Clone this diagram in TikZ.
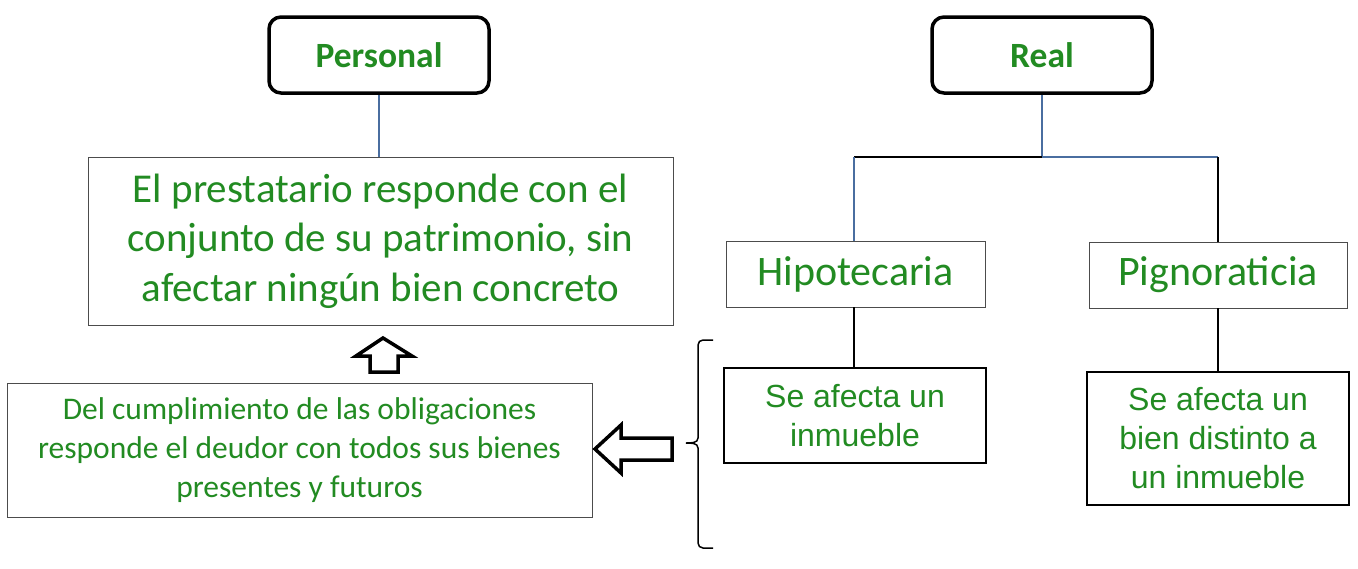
\documentclass[tikz,border=0pt]{standalone}
\usepackage{fontspec}
\setmainfont{Carlito}
\newfontfamily\arialf{Liberation Sans}
\definecolor{tgreen}{RGB}{34,139,34}
\definecolor{lblue}{RGB}{74,110,160}
\begin{document}
\begin{tikzpicture}[x=1pt,y=-1pt,
  topbox/.style={draw=black,line width=3.5pt,rounded corners=12pt,fill=white,minimum width=220pt,minimum height=76pt,font=\fontsize{35.5}{40}\selectfont\bfseries,text=tgreen},
  thinbox/.style={draw=black!70,line width=0.9pt,text=tgreen,align=center,inner sep=0pt},
  darkbox/.style={draw=black,line width=2pt,text=tgreen,align=center,inner sep=0pt},
  blk/.style={draw=black,line width=1.5pt},
  blu/.style={draw=lblue,line width=1.5pt},
  blockarrow/.style={draw=black,line width=3.5pt,fill=white,line join=miter}
]
\useasboundingbox (0,0) rectangle (1358,568);
% top boxes
\node[topbox] (pers) at (379,55) {Personal};
\node[topbox] (real) at (1042,55) {Real};
% big box
\node[thinbox,minimum width=585pt,minimum height=168pt,font=\fontsize{41}{49.5}\selectfont] (big) at (380.5,241) {El prestatario responde con el\\conjunto de su patrimonio, sin\\afectar ningún bien concreto};
% lower-left box
\node[thinbox,minimum width=585pt,minimum height=134pt,font=\fontsize{31.5}{39}\selectfont] (del) at (299.5,450) {Del cumplimiento de las obligaciones\\responde el deudor con todos sus bienes\\presentes y futuros};
% Hipotecaria, Pignoraticia
\node[thinbox,minimum width=259pt,minimum height=66pt,font=\fontsize{42}{44}\selectfont] (hip) at (855.5,274) {Hipotecaria};
\node[thinbox,minimum width=258pt,minimum height=66pt,font=\fontsize{42}{44}\selectfont] (pig) at (1218,275) {Pignoraticia};
% children
\node[darkbox,minimum width=262pt,minimum height=95pt,font=\arialf\fontsize{32}{39}\selectfont] (se1) at (855,415.5) {Se afecta un\\inmueble};
\node[darkbox,minimum width=262pt,minimum height=133pt,font=\arialf\fontsize{32}{39}\selectfont] (se2) at (1218,438.5) {Se afecta un\\bien distinto a\\un inmueble};
% connectors
\draw[blu] (pers.south) -- (big.north -| pers.south);
\coordinate (rj) at (1042,157);
\coordinate (hl) at (854,157);
\coordinate (hr) at (1218,157);
\draw[blu] (real.south) -- (rj);
\draw[blk] (rj) -- (hl);
\draw[blu] (rj) -- (hr);
\draw[blu] (hl) -- (hip.north -| hl);
\draw[blk] (hr) -- (pig.north -| hr);
\draw[blk] (hip.south -| hl) -- (se1.north -| hl);
\draw[blk] (pig.south -| hr) -- (se2.north -| hr);
% up arrow
\coordinate (ua) at (383,338);
\draw[blockarrow] (ua) -- ++(29,18) -- ++(-14,0) -- ++(0,16) -- ++(-28,0) -- ++(0,-16) -- ++(-14,0) -- cycle;
% left arrow
\coordinate (la) at (595,449);
\draw[blockarrow] (la) -- ++(26,-24) -- ++(0,13) -- ++(51,0) -- ++(0,22) -- ++(-51,0) -- ++(0,13) -- cycle;
% brace
\coordinate (bt) at (713,340);
\coordinate (bm) at (686,443);
\coordinate (bb) at (713,548);
\draw[line width=1.5pt] (bt) -- (703,340) to[out=180,in=90] (698,345) -- (698,438) to[out=-90,in=0] (bm) to[out=0,in=90] (698,448) -- (698,543) to[out=-90,in=180] (703,548) -- (bb);
\end{tikzpicture}
\end{document}
